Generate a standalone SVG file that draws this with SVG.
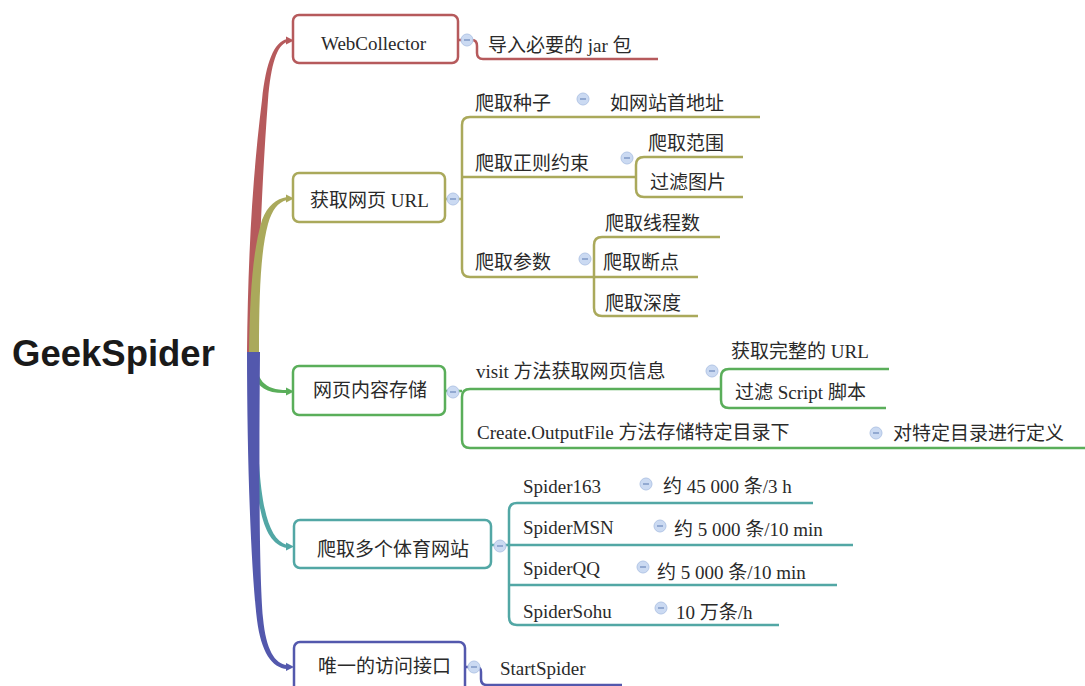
<svg xmlns="http://www.w3.org/2000/svg" width="1085" height="686" viewBox="0 0 1085 686">
<style>
.t{font-family:"Liberation Serif","Noto Sans CJK SC",serif;font-size:19px;fill:#2a2a2a}
.root{font-family:"Liberation Sans",Arial,sans-serif;font-size:36.5px;font-weight:bold;fill:#1a1a1a}
.box{fill:#fff;stroke-width:2.5}
.ln{fill:none;stroke-width:2.5;stroke-linejoin:round}
.r{stroke:#b65a5c}.o{stroke:#aaa95b}.g{stroke:#5aae5a}.c{stroke:#52a7a5}.b{stroke:#5358ad}
.cb{fill:#cbdaf2;stroke:#b3c6e6;stroke-width:1}
.cm{stroke:#7f98c6;stroke-width:1.5}
</style>
<defs>
<g id="col"><circle r="6" class="cb"/><line x1="-3" y1="0" x2="3" y2="0" class="cm"/></g>
</defs>
<rect width="1085" height="686" fill="#fff"/>
<g id="connectors">
<path d="M257,400 C258,485 263,538 287,545 L287,548 C258,543 254,490 254,400 Z" fill="#52a7a5"/>
<path d="M255,355 C256,380 264,390 287,390 L287,393 C262,394 253,384 252,360 Z" fill="#5aae5a"/>
<path d="M247,352 C248,260 252,180 262,100 C266,62 274,42 287,39 L287,42 C277,45 271,64 268,100 C262,180 259,260 257,352 Z" fill="#b65a5c"/>
<path d="M249,352 C250,290 253,250 262,220 C268,205 276,199 287,197 L287,200 C278,202 272,210 268,224 C261,250 259,290 259,352 Z" fill="#aaa95b"/>
<path d="M247,352 C247,460 251,570 257,620 C261,652 272,668 287,669 L287,665 C275,664 266,650 263,618 C259,570 259,460 260,352 Z" fill="#5358ad"/>
<path d="M286,36.5 L294,40.5 L286,44.5 Z" fill="#b65a5c"/>
<path d="M286,194.5 L294,198.5 L286,202.5 Z" fill="#aaa95b"/>
<path d="M286,387.5 L294,391.5 L286,395.5 Z" fill="#5aae5a"/>
<path d="M286,542.5 L294,546.5 L286,550.5 Z" fill="#52a7a5"/>
<path d="M286,663 L294,667 L286,671 Z" fill="#5358ad"/>
<path class="ln r" d="M458,40 L472,40 Q477,40 477,46 L477,53 Q477,59 483,59 L658,59"/>
<path class="ln o" d="M445,199 L462,199"/>
<path class="ln o" d="M760,117 L470,117 Q462,117 462,125 L462,269 Q462,277 470,277 L698,277"/>
<path class="ln o" d="M462,177 L636,177"/>
<path class="ln o" d="M743,157 L644,157 Q636,157 636,165 L636,189 Q636,197 644,197 L743,197"/>
<path class="ln o" d="M720,237 L602,237 Q594,237 594,245 L594,308 Q594,316 602,316 L698,316"/>
<path class="ln g" d="M445,391 L462,391"/>
<path class="ln g" d="M720,389 L470,389 Q462,389 462,397 L462,440 Q462,448 470,448 L1085,448"/>
<path class="ln g" d="M889,369 L729,369 Q721,369 721,377 L721,400 Q721,408 729,408 L886,408"/>
<path class="ln c" d="M491,545 L853,545"/>
<path class="ln c" d="M813,503 L517,503 Q509,503 509,511 L509,617 Q509,625 517,625 L779,625"/>
<path class="ln c" d="M509,585 L837,585"/>
<path class="ln b" d="M465,667 L476,667 Q481,667 481,672 L481,679 Q481,685 487,685 L622,685"/>
</g>
<g id="root"><text class="root" x="12" y="366">GeekSpider</text></g>
<g id="n1">
<rect class="box r" x="293" y="15" width="165" height="48" rx="6"/>
<text class="t" x="321" y="50">WebCollector</text>
<use href="#col" x="467" y="40"/>
</g>
<g id="n1a"><text class="t" x="488" y="52">导入必要的 jar 包</text></g>
<g id="n2">
<rect class="box o" x="293" y="173" width="152" height="49" rx="6"/>
<text class="t" x="310" y="207">获取网页 URL</text>
<use href="#col" x="453" y="199"/>
</g>
<g id="n2a"><text class="t" x="475" y="110">爬取种子</text><use href="#col" x="583" y="99"/></g>
<g id="n2a1"><text class="t" x="610" y="110">如网站首地址</text></g>
<g id="n2b"><text class="t" x="475" y="170">爬取正则约束</text><use href="#col" x="627" y="158"/></g>
<g id="n2b1"><text class="t" x="648" y="150">爬取范围</text></g>
<g id="n2b2"><text class="t" x="650" y="189">过滤图片</text></g>
<g id="n2c"><text class="t" x="475" y="269">爬取参数</text><use href="#col" x="585" y="259"/></g>
<g id="n2c1"><text class="t" x="605" y="230">爬取线程数</text></g>
<g id="n2c2"><text class="t" x="603" y="269">爬取断点</text></g>
<g id="n2c3"><text class="t" x="605" y="310">爬取深度</text></g>
<g id="n3">
<rect class="box g" x="293" y="366" width="152" height="49" rx="6"/>
<text class="t" x="313" y="397">网页内容存储</text>
<use href="#col" x="453" y="392"/>
</g>
<g id="n3a"><text class="t" x="476" y="378">visit 方法获取网页信息</text><use href="#col" x="712" y="371"/></g>
<g id="n3a1"><text class="t" x="731" y="358">获取完整的 URL</text></g>
<g id="n3a2"><text class="t" x="735" y="399">过滤 Script 脚本</text></g>
<g id="n3b"><text class="t" x="477" y="439">Create.OutputFile 方法存储特定目录下</text><use href="#col" x="876" y="433"/></g>
<g id="n3b1"><text class="t" x="893" y="440">对特定目录进行定义</text></g>
<g id="n4">
<rect class="box c" x="294" y="520" width="197" height="48" rx="6"/>
<text class="t" x="317" y="556">爬取多个体育网站</text>
<use href="#col" x="500" y="546"/>
</g>
<g id="n4a"><text class="t" x="523" y="493">Spider163</text><use href="#col" x="646" y="484"/><text class="t" x="663" y="493">约 45 000 条/3 h</text></g>
<g id="n4b"><text class="t" x="523" y="534">SpiderMSN</text><use href="#col" x="660" y="526"/><text class="t" x="674" y="536">约 5 000 条/10 min</text></g>
<g id="n4c"><text class="t" x="523" y="575">SpiderQQ</text><use href="#col" x="643" y="567"/><text class="t" x="657" y="579">约 5 000 条/10 min</text></g>
<g id="n4d"><text class="t" x="523" y="618">SpiderSohu</text><use href="#col" x="661" y="608"/><text class="t" x="676" y="619">10 万条/h</text></g>
<g id="n5">
<rect class="box b" x="294" y="642" width="171" height="52" rx="6"/>
<text class="t" x="318" y="673">唯一的访问接口</text>
<use href="#col" x="474" y="667"/>
</g>
<g id="n5a"><text class="t" x="500" y="675">StartSpider</text></g>
</svg>
